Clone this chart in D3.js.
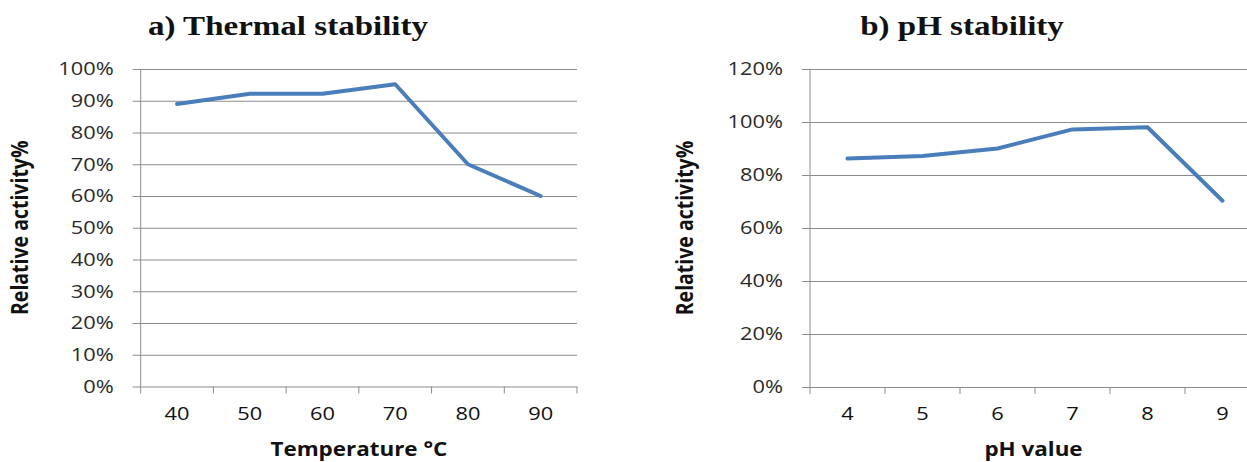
<!DOCTYPE html>
<html>
<head>
<meta charset="utf-8">
<script src="https://cdn.jsdelivr.net/npm/d3@7"></script>
<style>
  html, body { margin: 0; padding: 0; background: #fff; }
  svg { display: block; }
</style>
</head>
<body>
<svg id="chart" width="1247" height="462"></svg>
<script>
// ---- data ----
const tempCategories = ["40", "50", "60", "70", "80", "90"];
const tempValues = [0.89, 0.922, 0.922, 0.952, 0.70, 0.60];
const tempTicks = [0, 0.1, 0.2, 0.3, 0.4, 0.5, 0.6, 0.7, 0.8, 0.9, 1.0];

const phCategories = ["4", "5", "6", "7", "8", "9"];
const phValues = [0.862, 0.872, 0.90, 0.972, 0.98, 0.703];
const phTicks = [0, 0.2, 0.4, 0.6, 0.8, 1.0, 1.2];

const titles = ["a) Thermal stability", "b) pH stability"];
const xTitles = ["Temperature °C", "pH value"];
const yTitle = "Relative activity%";

// ---- style ----
const SX = 1.18;            // horizontal stretch of the original picture
const gridColor = "#8c8c8c";
const lineColor = "#4a7ebb";
const sansFont = "'Open Sans', sans-serif";
const serifFont = "'Liberation Serif', 'Times New Roman', serif";

const svg = d3.select("#chart");

function stretchText(sel) {
  sel.each(function () {
    const x = +this.getAttribute("x") || 0;
    const y = +this.getAttribute("y") || 0;
    this.setAttribute("x", 0);
    this.setAttribute("y", 0);
    this.setAttribute("transform", `translate(${x},${y}) scale(${SX},1)`);
  });
}

function panel(cfg) {
  const { left, right, top, bottom, cats, vals, ticks, yMax, title, titleX, xTitle, yTitleX } = cfg;
  const w = right - left, h = bottom - top;
  const g = svg.append("g");

  const x = d3.scaleBand().domain(cats).range([left, right]).padding(0);
  const y = d3.scaleLinear().domain([0, yMax]).range([bottom, top]);

  // gridlines + y labels
  const tickOut = 8;
  const yAxis = d3.axisLeft(y).tickValues(ticks).tickSize(-(w + tickOut)).tickPadding(19)
    .tickFormat(d3.format(".0%"));
  const ya = g.append("g").attr("transform", `translate(${left - tickOut},0)`).call(yAxis);
  ya.select(".domain").remove();
  ya.selectAll(".tick line").attr("stroke", gridColor).attr("stroke-width", 1);
  ya.selectAll(".tick text")
    .attr("font-family", sansFont).attr("font-size", 18.5).attr("fill", "#2a2a2a");
  stretchText(ya.selectAll(".tick text"));

  // vertical axis line
  g.append("line")
    .attr("x1", left).attr("x2", left).attr("y1", top).attr("y2", bottom + 7)
    .attr("stroke", gridColor).attr("stroke-width", 1);

  // x axis labels
  const xAxis = d3.axisBottom(x).tickSize(0).tickPadding(20);
  const xa = g.append("g").attr("transform", `translate(0,${bottom})`).call(xAxis);
  xa.select(".domain").remove();
  xa.selectAll(".tick text")
    .attr("font-family", sansFont).attr("font-size", 18.5).attr("fill", "#111");
  stretchText(xa.selectAll(".tick text"));

  // x tick marks at category boundaries
  const edges = cats.map(c => x(c) + x.bandwidth());
  g.selectAll(null).data(edges).enter().append("line")
    .attr("x1", d => d).attr("x2", d => d).attr("y1", bottom).attr("y2", bottom + 7)
    .attr("stroke", gridColor).attr("stroke-width", 1);

  // data line
  const line = d3.line().x((d, i) => x(cats[i]) + x.bandwidth() / 2).y(d => y(d));
  g.append("path").datum(vals)
    .attr("d", line).attr("fill", "none")
    .attr("stroke", lineColor).attr("stroke-width", 4)
    .attr("stroke-linejoin", "round").attr("stroke-linecap", "round");

  // title
  g.append("text")
    .attr("transform", `translate(${titleX},35) scale(${SX},1)`)
    .attr("text-anchor", "middle")
    .attr("font-family", serifFont).attr("font-weight", "bold").attr("font-size", 28)
    .attr("fill", "#111").text(title);

  // x title
  g.append("text")
    .attr("transform", `translate(${(left + Math.min(right, 1257)) / 2},456) scale(${SX},1)`)
    .attr("text-anchor", "middle")
    .attr("font-family", sansFont).attr("font-weight", "bold").attr("font-size", 19)
    .attr("fill", "#111").text(xTitle);

  // y title
  g.append("text")
    .attr("transform", `translate(${yTitleX},${(top + bottom) / 2}) scale(${SX},1) rotate(-90)`)
    .attr("text-anchor", "middle")
    .attr("font-family", sansFont).attr("font-weight", "bold").attr("font-size", 19.5)
    .attr("fill", "#111").text(yTitle);
}

panel({
  left: 140.7, right: 577, top: 69, bottom: 386.5,
  cats: tempCategories, vals: tempValues, ticks: tempTicks, yMax: 1.0,
  title: titles[0], titleX: 288, xTitle: xTitles[0], yTitleX: 28
});

panel({
  left: 810, right: 1260, top: 69, bottom: 387,
  cats: phCategories, vals: phValues, ticks: phTicks, yMax: 1.2,
  title: titles[1], titleX: 962, xTitle: xTitles[1], yTitleX: 693
});
</script>
</body>
</html>
